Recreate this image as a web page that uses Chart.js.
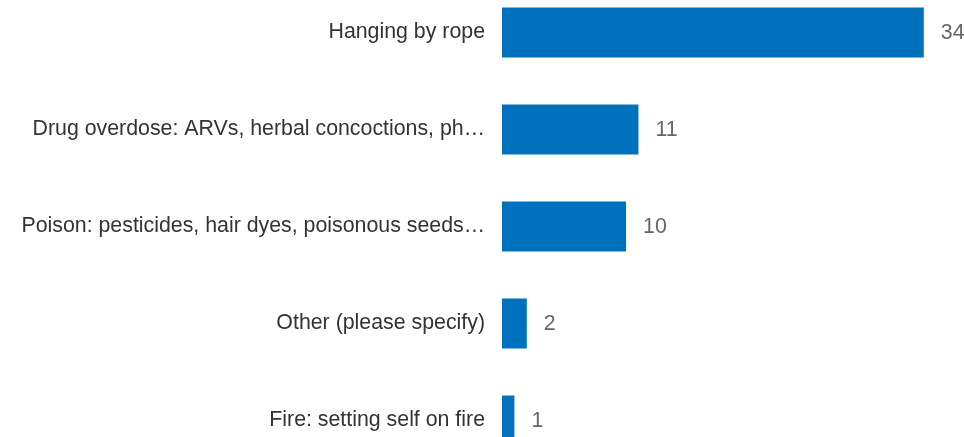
<!DOCTYPE html>
<html>
<head>
<meta charset="utf-8">
<script src="https://cdn.jsdelivr.net/npm/chart.js@4.4.1/dist/chart.umd.min.js"></script>
<style>
  html, body { margin: 0; padding: 0; background: #fff; overflow: hidden; }
  #wrap { position: absolute; left: 0; top: -16px; width: 964px; height: 485px; }
</style>
</head>
<body>
<div id="wrap"><canvas id="methodsChart"></canvas></div>
<script>
// --- chart data ---
const methods = [
    'Hanging by rope',
    'Drug overdose: ARVs, herbal concoctions, ph\u2026',
    'Poison: pesticides, hair dyes, poisonous seeds\u2026',
    'Other (please specify)',
    'Fire: setting self on fire'
];
const counts = [34, 11, 10, 2, 1];

const barColor = '#0071bc';
const labelColor = '#333333';
const valueColor = '#666666';
const fontFamily = '"Liberation Sans", Arial, sans-serif';
const fontSize = 21.33;

// draw the count next to each bar
const valueLabels = {
    id: 'valueLabels',
    afterDatasetsDraw(chart) {
        const ctx = chart.ctx;
        const meta = chart.getDatasetMeta(0);
        ctx.save();
        ctx.font = fontSize + 'px ' + fontFamily;
        ctx.fillStyle = valueColor;
        ctx.textAlign = 'left';
        ctx.textBaseline = 'middle';
        meta.data.forEach((bar, i) => {
            ctx.fillText(String(counts[i]), bar.x + 17, bar.y + 1);
        });
        ctx.restore();
    }
};

new Chart(document.getElementById('methodsChart'), {
    type: 'bar',
    data: {
        labels: methods,
        datasets: [{
            data: counts,
            backgroundColor: barColor,
            borderWidth: 0,
            categoryPercentage: 1,
            barPercentage: 0.515
        }]
    },
    options: {
        indexAxis: 'y',
        responsive: true,
        maintainAspectRatio: false,
        animation: false,
        layout: { padding: { left: 0, right: 3, top: 0, bottom: 0 } },
        plugins: {
            legend: { display: false },
            tooltip: { enabled: false }
        },
        scales: {
            x: {
                display: false,
                min: 0,
                max: 37
            },
            y: {
                grid: { display: false, drawTicks: false },
                border: { display: false },
                ticks: {
                    color: labelColor,
                    font: { family: fontFamily, size: fontSize },
                    padding: 17,
                    autoSkip: false
                },
                afterFit(scale) {
                    scale.width = 502;
                    scale.paddingTop = 0;
                    scale.paddingBottom = 0;
                }
            }
        }
    },
    plugins: [valueLabels]
});
</script>
</body>
</html>
